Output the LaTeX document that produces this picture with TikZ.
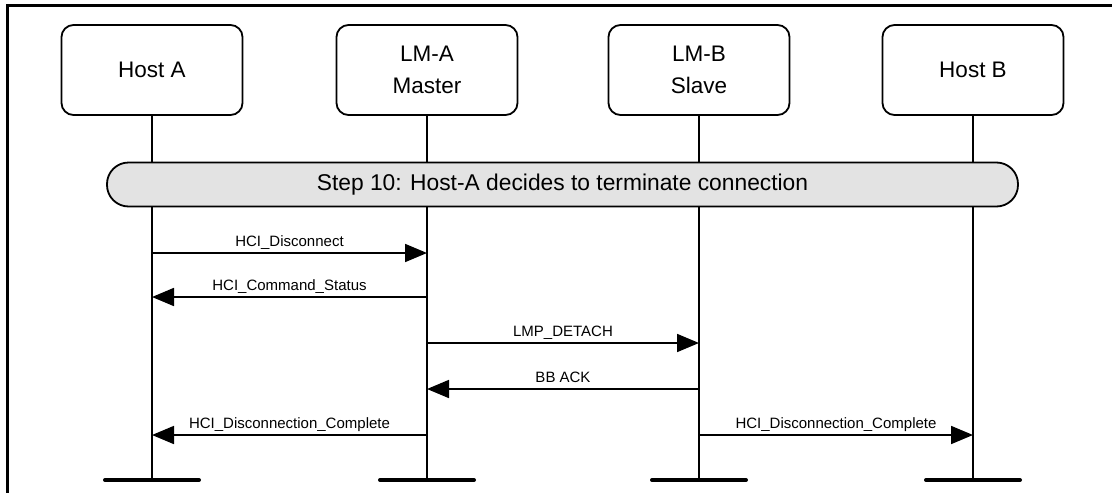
\documentclass[tikz,border=0pt]{standalone}
\usepackage{fontspec}
\setmainfont{Liberation Sans}
\usetikzlibrary{arrows.meta}

\begin{document}
\begin{tikzpicture}[x=1pt,y=-1pt,line join=round,
  entity/.style={draw,line width=1.8pt,rounded corners=12pt,minimum width=181pt,minimum height=90pt,inner sep=0pt,align=center,font=\fontsize{22.5}{32}\selectfont},
  stepbanner/.style={draw,fill=black!11,line width=1.8pt,rounded corners=21.5pt,minimum width=911pt,minimum height=44pt,inner sep=0pt,font=\fontsize{22.8}{26}\selectfont},
  life/.style={line width=1.8pt},
  endbar/.style={line width=4pt,line cap=round},
  msg/.style={line width=1.8pt,-{Triangle[length=22pt,width=18pt]}},
  msglabel/.style={font=\fontsize{15}{18}\selectfont,anchor=base,yshift=7pt,inner sep=0pt}]
\useasboundingbox (0,0) rectangle (1112,493);
% frame
\coordinate (frameBL) at (7.5,494);
\coordinate (frameTL) at (7.5,5.3);
\coordinate (frameTR) at (1113,5.3);
\draw[line width=2.8pt,line join=miter] (frameBL) -- (frameTL) -- (frameTR);
% entities
\node[entity] (hostA) at (152,70) {Host A};
\node[entity] (lmA) at (427,70) {LM-A\\Master};
\node[entity] (lmB) at (699,70) {LM-B\\Slave};
\node[entity] (hostB) at (973,70) {Host B};
% lifelines
\coordinate (endA) at (152,480);
\coordinate (endLA) at (427,480);
\coordinate (endLB) at (699,480);
\coordinate (endB) at (973,480);
\draw[life] (hostA) -- (endA);
\draw[life] (lmA) -- (endLA);
\draw[life] (lmB) -- (endLB);
\draw[life] (hostB) -- (endB);
\draw[endbar] ([xshift=-47pt]endA) -- ([xshift=47pt]endA);
\draw[endbar] ([xshift=-47pt]endLA) -- ([xshift=47pt]endLA);
\draw[endbar] ([xshift=-47pt]endLB) -- ([xshift=47pt]endLB);
\draw[endbar] ([xshift=-47pt]endB) -- ([xshift=47pt]endB);
% step 10
\node[stepbanner] (step) at (562.5,184.5) {Step 10: Host-A decides to terminate connection};
% messages
\coordinate (m1) at (0,253);
\coordinate (m2) at (0,297);
\coordinate (m3) at (0,343);
\coordinate (m4) at (0,389);
\coordinate (m5) at (0,435);
\draw[msg] (hostA |- m1) -- (lmA |- m1) node[midway,msglabel] {HCI\_Disconnect};
\draw[msg] (lmA |- m2) -- (hostA |- m2) node[midway,msglabel] {HCI\_Command\_Status};
\draw[msg] (lmA |- m3) -- (lmB |- m3) node[midway,msglabel] {LMP\_DETACH};
\draw[msg] (lmB |- m4) -- (lmA |- m4) node[midway,msglabel] {BB ACK};
\draw[msg] (lmA |- m5) -- (hostA |- m5) node[midway,msglabel] {HCI\_Disconnection\_Complete};
\draw[msg] (lmB |- m5) -- (hostB |- m5) node[midway,msglabel] {HCI\_Disconnection\_Complete};
\end{tikzpicture}
\end{document}
